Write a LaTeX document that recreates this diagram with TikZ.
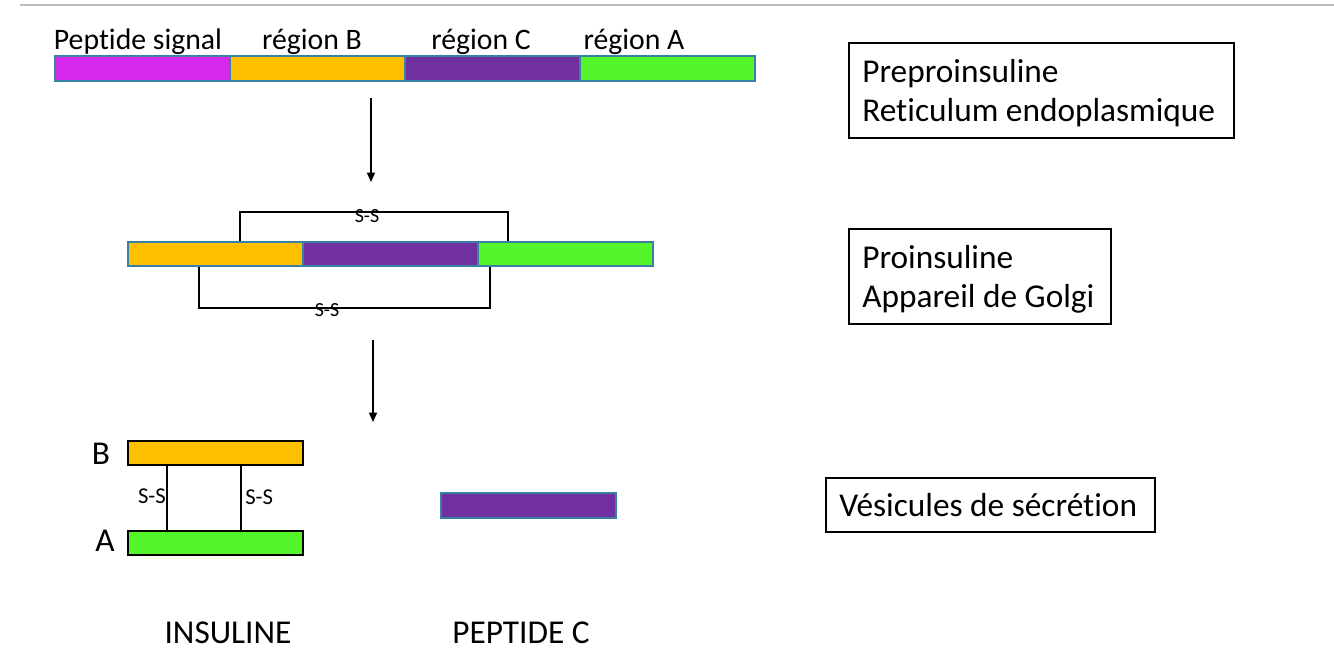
\documentclass[tikz,border=0pt]{standalone}
\usepackage{fontspec}
\setmainfont{Carlito}[Ligatures=NoCommon]
\usetikzlibrary{arrows.meta,calc}
\definecolor{cMag}{HTML}{D428EC}
\definecolor{cOra}{HTML}{FFC000}
\definecolor{cPur}{HTML}{7030A0}
\definecolor{cGre}{HTML}{54F52A}
\definecolor{cBord}{HTML}{3A80A5}
\definecolor{cGray}{HTML}{BEBEBE}
\begin{document}
\begin{tikzpicture}[x=0.75pt,y=-0.75pt,
  seg/.style={draw=cBord,line width=1.3pt,anchor=north west,inner sep=0pt,minimum width=131.25pt,minimum height=18.75pt},
  segk/.style={draw=black,line width=1.3pt,anchor=north west,inner sep=0pt,minimum width=131.25pt,minimum height=18pt},
  lab/.style={font=\fontsize{22.3}{26}\selectfont,inner sep=0pt},
  big/.style={font=\fontsize{25}{29}\selectfont,inner sep=0pt},
  ssm/.style={font=\fontsize{15}{18}\selectfont,inner sep=0pt},
  ssb/.style={font=\fontsize{17}{20}\selectfont,inner sep=0pt},
  bond/.style={draw=black,line width=1.3pt},
  bondthin/.style={draw=black,line width=1pt},
  arr/.style={draw=black,line width=1.1pt,-{Triangle[length=7pt,width=6pt]}},
  infobox/.style={draw=black,line width=1.3pt,anchor=north west,inner sep=0pt},
  infotext/.style={anchor=west,align=left,inner sep=0pt,font=\fontsize{25}{29.25}\selectfont}
]
\useasboundingbox (0,0) rectangle (1334,664);
% top gray rule
\coordinate (g1) at (20,5);
\coordinate (g2) at (1334,5);
\draw[cGray,line width=2.2pt] (g1) -- (g2);

% preproinsuline bar
\node[seg,fill=cMag] (s1) at (54,55) {};
\node[seg,fill=cOra] (s2) at (229,55) {};
\node[seg,fill=cPur] (s3) at (404,55) {};
\node[seg,fill=cGre] (s4) at (579,55) {};
\node[lab] (l1) at (138,42) {Peptide signal};
\node[lab] (l2) at (312,42) {région B};
\node[lab] (l3) at (481,42) {région C};
\node[lab] (l4) at (634,42) {région A};

% arrow 1
\coordinate (a1s) at (371,98);
\coordinate (a1e) at (371,182);
\draw[arr] (a1s) -- (a1e);

% proinsuline bar
\node[seg,fill=cOra,minimum height=18pt] (m1) at (127,241) {};
\node[seg,fill=cPur,minimum height=18pt] (m2) at (302,241) {};
\node[seg,fill=cGre,minimum height=18pt] (m3) at (477,241) {};
\draw[bond] (240,0 |- m1.north) -- ++(0,-29) -| (508,0 |- m3.north);
\draw[bond] (199,0 |- m1.south) -- ++(0,41) -| (490,0 |- m3.south);
\node[ssm] (ss1) at (367,216) {S-S};
\node[ssm] (ss2) at (327,310) {S-S};

% arrow 2
\coordinate (a2s) at (373,340);
\coordinate (a2e) at (373,422);
\draw[arr] (a2s) -- (a2e);

% insulin
\node[segk,fill=cOra] (bB) at (127,440) {};
\node[segk,fill=cGre] (bA) at (127,530) {};
\draw[bondthin] (167,0 |- bB.south) -- (167,0 |- bA.north);
\draw[bondthin] (241,0 |- bB.south) -- (241,0 |- bA.north);
\node[ssb,anchor=east] (ss3) at (166,496) {S-S};
\node[ssb,anchor=west] (ss4) at (245,497) {S-S};
\node[big] (lB) at (101,454) {B};
\node[big] (lA) at (105,541) {A};

% peptide C
\node[seg,fill=cPur] (pc) at (440,492) {};

\node[big] (tI) at (228,633) {INSULINE};
\node[big] (tP) at (521,633) {PEPTIDE C};

% info boxes
\node[infobox,minimum width=288.75pt,minimum height=71.25pt] (b1) at (848,42) {};
\node[infotext] (t1) at ([xshift=10.5pt,yshift=-2pt]b1.west) {Preproinsuline\\Reticulum endoplasmique};
\node[infobox,minimum width=196.5pt,minimum height=71.25pt] (b2) at (848,228) {};
\node[infotext] (t2) at ([xshift=10.5pt,yshift=-2pt]b2.west) {Proinsuline\\Appareil de Golgi};
\node[infobox,minimum width=246.75pt,minimum height=40.5pt] (b3) at (825,477) {};
\node[infotext] (t3) at ([xshift=10.5pt,yshift=-0.5pt]b3.west) {Vésicules de sécrétion};
\end{tikzpicture}
\end{document}
